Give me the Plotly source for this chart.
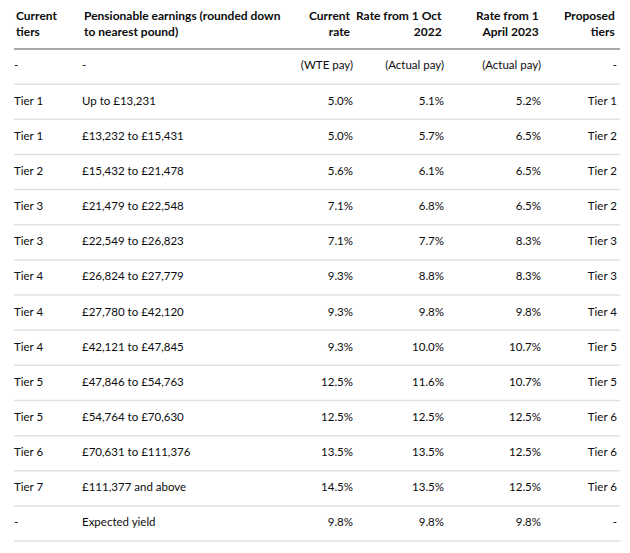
import plotly.graph_objects as go

headers = ["Current<br>tiers", "Pensionable earnings (rounded down<br>to nearest pound)",
           "Current<br>rate", "Rate from 1 Oct<br>2022", "Rate from 1<br>April 2023", "Proposed<br>tiers"]

current_tiers = ["-", "Tier 1", "Tier 1", "Tier 2", "Tier 3", "Tier 3", "Tier 4", "Tier 4",
                 "Tier 4", "Tier 5", "Tier 5", "Tier 6", "Tier 7", "-"]
earnings = ["-", "Up to £13,231", "£13,232 to £15,431", "£15,432 to £21,478", "£21,479 to £22,548",
            "£22,549 to £26,823", "£26,824 to £27,779", "£27,780 to £42,120", "£42,121 to £47,845",
            "£47,846 to £54,763", "£54,764 to £70,630", "£70,631 to £111,376", "£111,377 and above",
            "Expected yield"]
current_rate = ["(WTE pay)", "5.0%", "5.0%", "5.6%", "7.1%", "7.1%", "9.3%", "9.3%", "9.3%",
                "12.5%", "12.5%", "13.5%", "14.5%", "9.8%"]
rate_oct_2022 = ["(Actual pay)", "5.1%", "5.7%", "6.1%", "6.8%", "7.7%", "8.8%", "9.8%", "10.0%",
                 "11.6%", "12.5%", "13.5%", "13.5%", "9.8%"]
rate_apr_2023 = ["(Actual pay)", "5.2%", "6.5%", "6.5%", "6.5%", "8.3%", "8.3%", "9.8%", "10.7%",
                 "10.7%", "12.5%", "12.5%", "12.5%", "9.8%"]
proposed_tiers = ["-", "Tier 1", "Tier 2", "Tier 2", "Tier 2", "Tier 3", "Tier 3", "Tier 4", "Tier 5",
                  "Tier 5", "Tier 6", "Tier 6", "Tier 6", "-"]

columns = [current_tiers, earnings, current_rate, rate_oct_2022, rate_apr_2023, proposed_tiers]

# layout in page pixels (the page body has an 8px default margin)
PAGE_W, PAGE_H = 630, 553
OFF = 8
W, H = PAGE_W - OFF - 8, PAGE_H - OFF - 8
col_anchor = [14, 82, 353, 444, 541, 617]
col_align = ["left", "left", "right", "right", "right", "right"]
table_left, table_right = 14, 620
header_h = 49
row_h = 35.15
n_rows = len(current_tiers)
text_color = "#0b0c0c"
font_family = "Lato"
body_size = 11.5
head_size = 12

row_y = [header_h + row_h * (i + 0.5) for i in range(n_rows)]

fig = go.Figure()
for vals, xa, al in zip(columns, col_anchor, col_align):
    fig.add_trace(go.Scatter(
        x=[xa] * n_rows, y=row_y, text=vals, mode="text",
        textposition="middle right" if al == "left" else "middle left",
        textfont=dict(family=font_family, size=body_size, color=text_color),
        hoverinfo="skip", showlegend=False,
    ))

annotations = []
for h, xa, al in zip(headers, col_anchor, col_align):
    annotations.append(dict(
        x=xa, y=header_h / 2 - 1, xref="x", yref="y", text=f"<b>{h}</b>", showarrow=False,
        xanchor=al, yanchor="middle", align=al,
        font=dict(family=font_family, size=head_size, color=text_color),
    ))

shapes = [dict(type="line", xref="x", yref="y", x0=table_left, x1=table_right,
               y0=header_h, y1=header_h, line=dict(color="#a8a8a8", width=2), layer="below")]
for i in range(1, n_rows + 1):
    y = header_h + i * row_h
    shapes.append(dict(type="line", xref="x", yref="y", x0=table_left, x1=table_right,
                       y0=y, y1=y, line=dict(color="#e1e1e1", width=1.5), layer="below"))

fig.update_layout(
    width=W, height=H,
    margin=dict(l=0, r=0, t=0, b=0),
    paper_bgcolor="white", plot_bgcolor="white",
    xaxis=dict(range=[OFF, OFF + W], visible=False, fixedrange=True),
    yaxis=dict(range=[OFF + H, OFF], visible=False, fixedrange=True),
    shapes=shapes, annotations=annotations,
)
fig.write_html("out.html")
